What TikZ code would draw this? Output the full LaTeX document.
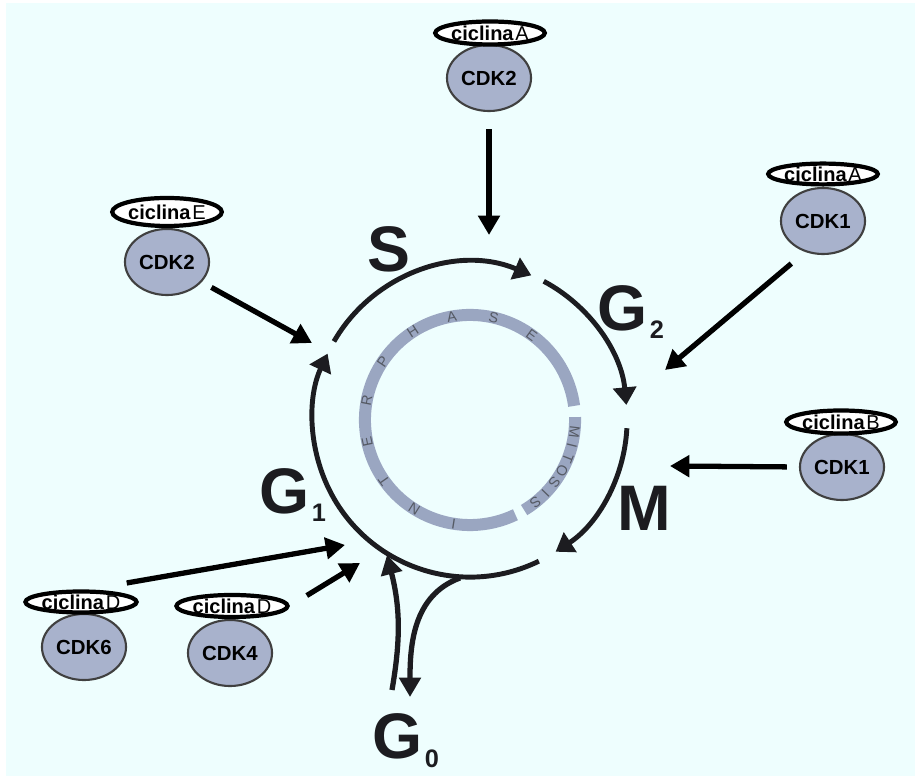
\documentclass[tikz,border=0pt]{standalone}
\usepackage{fontspec}
\setmainfont{Liberation Sans}
\usetikzlibrary{shapes.geometric,arrows.meta}

\definecolor{bgcyan}{RGB}{238,254,254}
\definecolor{ringblue}{RGB}{154,166,193}
\definecolor{cdkblue}{RGB}{168,178,204}
\definecolor{cycline}{RGB}{28,28,32}
\definecolor{ringtext}{RGB}{85,90,100}

\newcommand{\fase}[2]{#1\kern0.02cm\raisebox{-0.08cm}{\fontsize{7.2}{8}\selectfont #2}}
\newcommand{\cic}[1]{{\bfseries ciclina}\kern0.5pt#1}

\tikzset{
  cyclin/.style={ellipse, draw=black, line width=1.2pt, fill=white, inner sep=0pt,
    minimum width=1cm, minimum height=0.23cm, font=\fontsize{5.7}{6}\selectfont},
  cdk/.style={ellipse, draw=black!75, line width=0.6pt, fill=cdkblue, inner sep=0pt,
    minimum width=0.84cm, minimum height=0.66cm, font=\bfseries\fontsize{5.8}{6}\selectfont},
  phase/.style={inner sep=0pt, anchor=base west, text=cycline,
    font=\bfseries\fontsize{18.3}{20}\selectfont},
  cycarc/.style={draw=cycline, line width=1.4pt, -{Triangle[length=5pt,width=6.5pt]}},
  arr/.style={draw=black, line width=1.5pt, -{Triangle[length=5.5pt,width=6pt]}},
  ring/.style={draw=ringblue, line width=0.12cm},
  ringltr/.style={inner sep=0pt, text=ringtext, font=\fontsize{4.1}{5}\selectfont}
}

\begin{document}
\begin{tikzpicture}[x=0.01cm,y=0.01cm]
  \useasboundingbox (0,0) rectangle (915,776);
  \fill[bgcyan] (6,0) rectangle (915,773);

  % inner ring
  \coordinate (cc) at (470,356);
  \draw[ring] ([shift={(7.7:1.05cm)}]cc) arc[start angle=7.7, end angle=295.6, radius=1.05cm];
  \draw[ring] ([shift={(1.6:1.05cm)}]cc) arc[start angle=1.6, end angle=-59, radius=1.05cm];
  \begin{scope}[shift={(cc)}]
    \path
      (261:1.05cm) node[ringltr,rotate=171] (in1){I}
      (238:1.05cm) node[ringltr,rotate=148] (in2){N}
      (215:1.05cm) node[ringltr,rotate=125] (in3){T}
      (192:1.05cm) node[ringltr,rotate=102] (in4){E}
      (169:1.05cm) node[ringltr,rotate=79] (in5){R}
      (146:1.05cm) node[ringltr,rotate=56] (in6){P}
      (123:1.05cm) node[ringltr,rotate=33] (in7){H}
      (100:1.05cm) node[ringltr,rotate=10] (in8){A}
      (77:1.05cm) node[ringltr,rotate=-13] (in9){S}
      (54:1.05cm) node[ringltr,rotate=-36] (in10){E};
    \path
      (-6.5:1.05cm) node[ringltr,rotate=-96.5] (mi1){M}
      (-14:1.05cm) node[ringltr,rotate=-104] (mi2){I}
      (-21.5:1.05cm) node[ringltr,rotate=-111.5] (mi3){T}
      (-29:1.05cm) node[ringltr,rotate=-119] (mi4){O}
      (-36.5:1.05cm) node[ringltr,rotate=-126.5] (mi5){S}
      (-44:1.05cm) node[ringltr,rotate=-134] (mi6){I}
      (-51.5:1.05cm) node[ringltr,rotate=-141.5] (mi7){S};
  \end{scope}

  % outer cycle
  \draw[cycarc] ([shift={(150:1.57cm)}]cc) arc[start angle=150, end angle=67, radius=1.57cm];
  \draw[cycarc] ([shift={(62:1.57cm)}]cc) arc[start angle=62, end angle=5.5, radius=1.57cm];
  \draw[cycarc] ([shift={(-3:1.57cm)}]cc) arc[start angle=-3, end angle=-57, radius=1.57cm];
  \draw[cycarc] ([shift={(-64:1.57cm)}]cc) arc[start angle=-64, end angle=-205, radius=1.57cm];

  \node[phase] (lS) at (367,504) {S};
  \node[phase] (lG2) at (597,445) {\fase{G}{2}};
  \node[phase] (lM) at (617,245) {M};
  \node[phase] (lG1) at (259,262) {\fase{G}{1}};
  \node[phase] (lG0) at (372,17) {\fase{G}{0}};

  % cyclin-CDK complexes
  \node[cdk] (cdk2A) at (489,698) {CDK2};
  \node[cyclin] (cycA1) at (490,743) {\cic{A}};
  \node[cdk] (cdk2E) at (167,514) {CDK2};
  \node[cyclin,minimum height=0.28cm] (cycE) at (167,564) {\cic{E}};
  \node[cdk] (cdk1A) at (823,555) {CDK1};
  \node[cyclin,minimum height=0.2cm] (cycA2) at (823,602) {\cic{A}};
  \node[cdk] (cdk1B) at (842,309) {CDK1};
  \node[cyclin] (cycB) at (841,354) {\cic{B}};
  \node[cdk] (cdk6) at (84,129) {CDK6};
  \node[cyclin,minimum width=0.98cm,minimum height=0.21cm] (cycD6) at (81,174) {\cic{D}};
  \node[cdk] (cdk4) at (230,123) {CDK4};
  \node[cyclin,minimum height=0.22cm] (cycD4) at (232,170) {\cic{D}};

  \coordinate (tA1) at (489,541);
  \coordinate (tE) at (312,433);
  \coordinate (tA2) at (665,406);
  \coordinate (tB) at (670,310);
  \coordinate (tD6) at (345,231);
  \coordinate (tD4) at (360,213);
  \coordinate (tG0in) at (387,221);
  \coordinate (jG0) at (460,198);
  \coordinate (g0a) at (392,86);
  \coordinate (g0b) at (410,79);

  \draw[arr,shorten <=0.17cm] (cdk2A.south) -- (tA1);
  \draw[arr,shorten <=0.11cm] (cdk2E.-30) -- (tE);
  \draw[arr,shorten <=0.18cm] (cdk1A.240) -- (tA2);
  \draw[arr,shorten <=0.12cm] (cdk1B.west) -- (tB);
  \draw[arr] ([xshift=-0.12cm,yshift=0.19cm]cycD6.east) -- (tD6);
  \draw[arr,shorten <=0.2cm] (cycD4.east) -- (tD4);
  \draw[arr,draw=cycline] (g0a) to[bend right=12] (tG0in);
  \draw[arr,draw=cycline] (jG0) to[out=200,in=90] (g0b);
\end{tikzpicture}
\end{document}
